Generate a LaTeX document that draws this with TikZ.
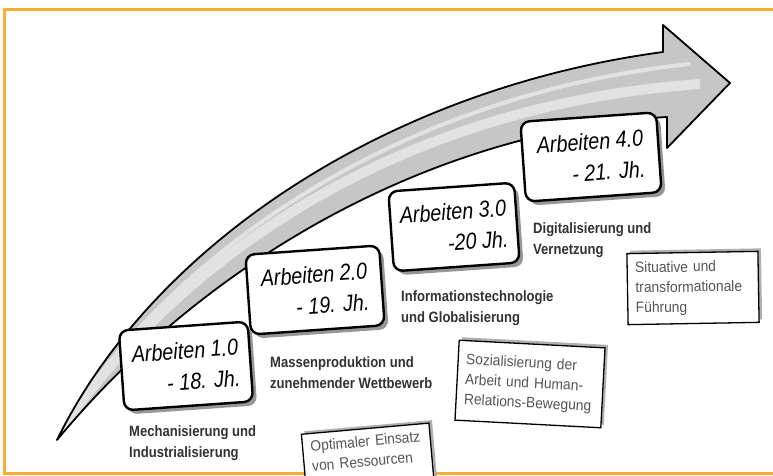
\documentclass[tikz,border=0pt]{standalone}
\usepackage{fontspec}
\setmainfont{Liberation Sans}
\newfontfamily\handfont[FakeStretch=0.86]{Liberation Sans}
\newfontfamily\labelfont[FakeStretch=0.87]{Liberation Sans}
\newfontfamily\notefont[FakeStretch=0.92]{Liberation Sans}
\usetikzlibrary{shadows}
\definecolor{frameorange}{RGB}{250,176,52}
\definecolor{arrowgrey}{RGB}{198,198,198}
\definecolor{arrowlight}{RGB}{226,226,226}
\definecolor{handshadow}{RGB}{150,150,150}
\definecolor{noteshadow}{RGB}{175,175,175}
\definecolor{labeltext}{RGB}{50,50,50}
\definecolor{notetext}{RGB}{85,85,85}
\newcommand{\arrowshape}{(tail) .. controls (150,250) and (380,90) .. (shafttop) -- (barbtop) -- (tip) -- (barbbottom) -- (shaftbottom) .. controls (440,130) and (210,255) .. (tail) -- cycle}

\begin{document}
\begin{tikzpicture}[x=1pt, y=-1pt,
    handbox/.style={draw=black, line width=2.4pt, rounded corners=9pt, fill=white, minimum height=80pt, align=right, inner sep=4pt, rotate=4,
        font=\handfont\itshape\fontsize{23}{31}\selectfont,
        drop shadow={shadow xshift=4pt, shadow yshift=-4pt, fill=handshadow, opacity=1}},
    phase/.style={anchor=west, align=left, inner sep=0pt, text=labeltext, font=\labelfont\bfseries\fontsize{15}{21}\selectfont},
    notebox/.style={draw=black, line width=1.3pt, fill=white, align=left, inner xsep=8pt, inner ysep=7pt, text=notetext,
        font=\notefont\fontsize{15}{20}\selectfont,
        drop shadow={shadow xshift=3pt, shadow yshift=3pt, fill=noteshadow, opacity=1}}]

    \useasboundingbox (0,0) rectangle (773,476);

    % frame
    \draw[frameorange, line width=3pt] (773,9.5) -- (4.5,9.5) -- (4.5,473.5) -- (773,473.5);

    % big arrow
    \coordinate (tail) at (57,440);
    \coordinate (shafttop) at (663,52);
    \coordinate (barbtop) at (663,25);
    \coordinate (tip) at (730,83);
    \coordinate (barbbottom) at (667,148);
    \coordinate (shaftbottom) at (667,117);

    \fill[arrowgrey] \arrowshape;
    \begin{scope}
        \clip \arrowshape;
        \draw[arrowlight, line width=10pt] (40,460) .. controls (175,250) and (405,105) .. (700,84);
        \draw[arrowlight, line width=4pt] (50,448) .. controls (160,258) and (392,96) .. (690,64);
    \end{scope}
    \draw[black, line width=1.8pt, line join=round] \arrowshape;

    % phases
    \node[handbox, minimum width=134pt] (era2) at (315,290) {Arbeiten 2.0\\- 19. Jh.};
    \node[handbox, minimum width=126pt] (era3) at (454,227) {Arbeiten 3.0\\-20 Jh.};
    \node[handbox, minimum width=136pt] (era4) at (591,157) {Arbeiten 4.0\\- 21. Jh.};
    \node[handbox, minimum width=129pt] (era1) at (186,366) {Arbeiten 1.0\\- 18. Jh.};

    \node[phase] (mech) at (129,443) {Mechanisierung und\\Industrialisierung};
    \node[phase] (mass) at (270,373) {Massenproduktion und\\zunehmender Wettbewerb};
    \node[phase] (info) at (401,308) {Informationstechnologie\\und Globalisierung};
    \node[phase] (digi) at (533,240) {Digitalisierung und\\Vernetzung};

    % management notes
    \node[notebox, text width=112pt, rotate=5] (ressourcen) at (368,461) {Optimaler Einsatz\\von Ressourcen\\\mbox{}};
    \node[notebox, text width=130pt, minimum height=80pt, rotate=-3] (human) at (530,384) {Sozialisierung der\\Arbeit und Human-\\Relations-Bewegung};
    \node[notebox, text width=115pt, minimum height=71pt, rotate=1] (fuehrung) at (693,288) {Situative und\\transformationale\\Führung};

\end{tikzpicture}
\end{document}
